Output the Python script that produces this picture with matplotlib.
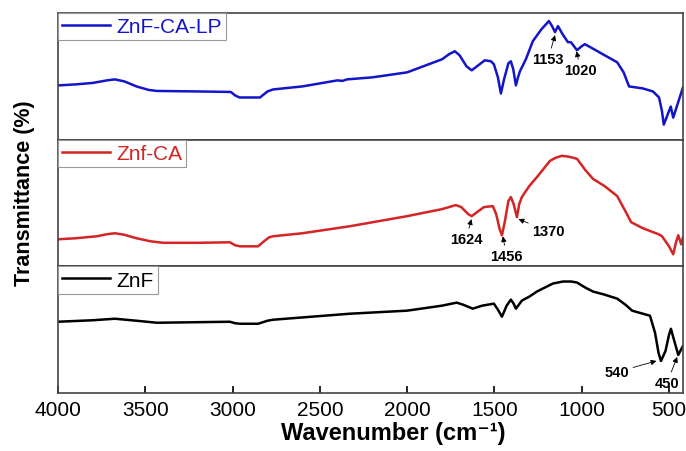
import numpy as np
import matplotlib
matplotlib.use('Agg')
import matplotlib.pyplot as plt

plt.rcParams['font.family'] = ['Liberation Sans', 'DejaVu Sans']

# 读图得到的光谱数据 (波数, 透过率 任意单位)
wn_lp = [4000, 3900, 3800, 3720, 3674, 3620, 3550, 3480, 3433, 3200, 3010, 2985, 2960, 2843,
         2800, 2768, 2600, 2400, 2370, 2345, 2200, 2000, 1800, 1760, 1727, 1700, 1660, 1630,
         1600, 1555, 1520, 1503, 1480, 1463, 1445, 1420, 1406, 1392, 1377, 1365, 1354, 1320,
         1280, 1230, 1188, 1170, 1153, 1136, 1110, 1079, 1062, 1027, 1000, 982, 930, 879,
         797, 760, 729, 650, 592, 557, 540, 530, 510, 490, 476, 450, 420]
t_lp = [54, 55, 56.5, 59, 60, 58, 53, 49.5, 48.5, 48, 47.5, 44, 42, 42,
        48, 50, 53, 59, 58.5, 60, 62, 67, 80, 85, 88, 84, 73, 69,
        73, 79, 78, 75, 62, 46, 60, 76, 78, 70, 54, 62, 68, 80,
        98, 110, 118, 113, 107, 113, 105, 97, 97, 89, 93, 95, 90, 85,
        77, 67, 53, 51, 48, 42, 28, 15, 24, 33, 22, 36, 52]

wn_ca = [4000, 3900, 3777, 3720, 3674, 3620, 3550, 3470, 3397, 3200, 3015, 2985, 2957, 2854,
         2820, 2790, 2768, 2600, 2327, 2000, 1800, 1721, 1690, 1650, 1630, 1600, 1560, 1509,
         1490, 1470, 1457, 1440, 1420, 1406, 1390, 1371, 1358, 1343, 1300, 1251, 1182, 1150,
         1113, 1070, 1027, 980, 935, 870, 797, 750, 717, 650, 560, 540, 500, 476, 460, 447,
         430, 420]
t_ca = [27, 28, 30, 32, 33, 31.5, 28, 25, 23.5, 23.5, 24, 21, 20, 20,
        25, 29, 30, 33, 40, 50, 57, 61, 59, 52, 50, 54, 59, 60,
        52, 37, 31, 45, 65, 69, 62, 49, 62, 69, 80, 90, 105, 108,
        110, 109, 107, 96, 87, 80, 70, 55, 44, 38, 32, 30, 20, 12, 24, 31,
        22, 29]

wn_znf = [4000, 3800, 3674, 3550, 3433, 3015, 2985, 2957, 2854, 2800, 2768, 2327, 2001, 1800,
          1716, 1680, 1624, 1570, 1503, 1480, 1457, 1430, 1406, 1390, 1377, 1343, 1300, 1257,
          1165, 1107, 1060, 1027, 980, 935, 870, 797, 750, 711, 650, 609, 580, 560, 546,
          520, 500, 489, 470, 447, 420]
t_znf = [71, 72.5, 74, 72, 70, 71, 69.5, 69, 69, 72, 73, 79, 82, 87,
         90, 88, 84, 87, 89, 83, 76, 87, 93, 89, 84, 92, 96, 101,
         109, 111, 111, 110, 105, 101, 98, 94, 88, 82, 79, 77, 60, 40, 32,
         42, 58, 64, 52, 38, 47]

labels = ['ZnF-CA-LP', 'Znf-CA', 'ZnF']
colors = ['#1414c8', '#d42424', 'black']

# 峰标注: (文字, 文字位置, 箭头位置)
notes_lp = [('1153', (1193, 80), (1153, 104)), ('1020', (1005, 69), (1030, 88))]
notes_ca = [('1624', (1662, 27), (1632, 47)), ('1456', (1430, 10), (1452, 30)),
            ('1370', (1190, 35), (1362, 47))]
notes_znf = [('540', (800, 21), (572, 32)), ('450', (512, 10), (453, 36))]

fig, axes = plt.subplots(3, 1, sharex=True, figsize=(6.86, 4.52), dpi=100)
fig.subplots_adjust(left=0.0845, right=0.9956, bottom=0.128, top=0.969, hspace=0)

data = [(wn_lp, t_lp, notes_lp), (wn_ca, t_ca, notes_ca), (wn_znf, t_znf, notes_znf)]
for ax, (wn, t, notes), lab, c in zip(axes, data, labels, colors):
    ax.plot(wn, t, color=c, lw=1.8, label=lab)
    ax.set_ylim(0, 126)
    ax.set_yticks([])
    for s in ax.spines.values():
        s.set_color('#444444')
        s.set_linewidth(1.2)
    leg = ax.legend(loc='upper left', borderaxespad=0, fancybox=False, fontsize=15,
                    handlelength=2.3, handletextpad=0.3, borderpad=0.2, framealpha=1)
    leg.get_frame().set_edgecolor('#999999')
    leg.get_frame().set_linewidth(0.8)
    for txt in leg.get_texts():
        txt.set_color(c)
    for s, xy_t, xy_a in notes:
        ax.annotate(s, xy=xy_a, xytext=xy_t, ha='center', va='center',
                    fontsize=10.5, fontweight='bold',
                    arrowprops=dict(arrowstyle='-|>', color='black', lw=0.6,
                                    mutation_scale=8, shrinkA=1, shrinkB=0))

for ax in axes[:2]:
    ax.tick_params(axis='x', bottom=False, labelbottom=False)

ax = axes[2]
ax.set_xlim(4000, 420)
ax.set_xticks([4000, 3500, 3000, 2500, 2000, 1500, 1000, 500])
ax.tick_params(axis='x', direction='in', length=5, width=1.2, labelsize=15, pad=5)
ax.set_xlabel('Wavenumber (cm\u207b\u00b9)', fontsize=17, fontweight='bold')
ax.xaxis.set_label_coords(0.537, -0.22)

fig.text(0.036, 0.573, 'Transmittance (%)', rotation=90, ha='center', va='center',
         fontsize=15.5, fontweight='bold')

fig.savefig('out.png', dpi=100)
